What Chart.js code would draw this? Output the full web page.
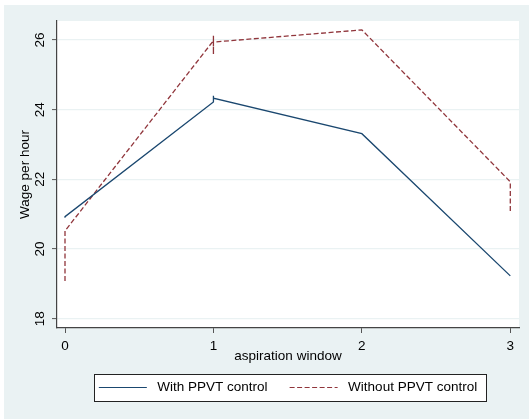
<!DOCTYPE html>
<html>
<head>
<meta charset="utf-8">
<script src="https://cdn.jsdelivr.net/npm/chart.js@4"></script>
<style>
  html, body { margin: 0; padding: 0; background: #eaf2f3; }
  canvas { display: block; }
</style>
</head>
<body>
<canvas id="chart" width="529" height="419"></canvas>
<script>
// values
const seriesNames = ['With PPVT control', 'Without PPVT control'];
const withX = [0, 0, 1, 1, 1, 2, 3];
const withY = [20.90, 20.93, 24.22, 24.40, 24.33, 23.31, 19.23];
const withoutX = [0, 0, 1, 1, 1, 1, 2, 3, 3];
const withoutY = [19.08, 20.52, 25.98, 26.12, 25.59, 25.94, 26.29, 21.93, 21.04];
const xTicks = [0, 1, 2, 3];
const yTicks = [18, 20, 22, 24, 26];

const navy = '#1a476f';
const maroon = '#90353b';
const bluishGray = '#eaf2f3';

Chart.defaults.font.family = "'Liberation Sans', Arial, sans-serif";
Chart.defaults.font.size = 13.5;
Chart.defaults.color = '#000';

function points(xs, ys) {
  return xs.map((x, i) => ({ x: x, y: ys[i] }));
}

// background, white plot region and the framed legend
const backdrop = {
  id: 'backdrop',
  beforeDraw(chart) {
    const ctx = chart.ctx;
    const a = chart.chartArea;
    ctx.save();
    ctx.fillStyle = bluishGray;
    ctx.fillRect(0, 0, chart.width, chart.height);
    ctx.fillStyle = '#fff';
    ctx.fillRect(0, 0, chart.width, 5);
    ctx.fillRect(0, 0, 4, chart.height);
    ctx.fillRect(a.left, a.top, a.right - a.left, a.bottom - a.top);

    const boxes = chart.legend.legendHitBoxes;
    if (boxes && boxes.length) {
      const first = boxes[0];
      const last = boxes[boxes.length - 1];
      const cy = first.top + first.height / 2;
      const x0 = Math.round(first.left - 4.5) + 0.5;
      const x1 = Math.round(last.left + last.width + 9) + 0.5;
      const y0 = Math.round(cy - 13.5) + 0.5;
      ctx.fillRect(x0, y0, x1 - x0, 27);
      ctx.strokeStyle = '#222';
      ctx.lineWidth = 1;
      ctx.strokeRect(x0, y0, x1 - x0, 27);
    }
    ctx.restore();
  }
};

new Chart(document.getElementById('chart'), {
  type: 'scatter',
  data: {
    datasets: [{
      label: seriesNames[0],
      data: points(withX, withY),
      showLine: true,
      borderColor: navy,
      backgroundColor: navy,
      borderWidth: 1.3,
      pointRadius: 0,
      pointHoverRadius: 0
    }, {
      label: seriesNames[1],
      data: points(withoutX, withoutY),
      showLine: true,
      borderColor: maroon,
      backgroundColor: maroon,
      borderWidth: 1.3,
      borderDash: [5, 2.5],
      pointRadius: 0,
      pointHoverRadius: 0
    }]
  },
  options: {
    responsive: false,
    animation: false,
    layout: { padding: { top: 21, right: 10, bottom: 14.75, left: 0 } },
    plugins: {
      tooltip: { enabled: false },
      legend: {
        position: 'bottom',
        fullSize: false,
        labels: {
          usePointStyle: true,
          pointStyle: 'line',
          pointStyleWidth: 48,
          padding: 22,
          color: '#000',
          generateLabels(chart) {
            return chart.data.datasets.map((ds, i) => ({
              text: ' ' + ds.label,
              strokeStyle: ds.borderColor,
              fillStyle: ds.borderColor,
              lineWidth: 1.2,
              lineDash: ds.borderDash || [],
              pointStyle: 'line',
              datasetIndex: i
            }));
          }
        }
      }
    },
    scales: {
      x: {
        type: 'linear',
        min: -0.0539,
        max: 3.0586,
        afterBuildTicks(scale) { scale.ticks = xTicks.map(v => ({ value: v })); },
        afterFit(scale) { scale.height = 30.75; },
        ticks: { padding: 5.5, color: '#000' },
        grid: { drawOnChartArea: false, drawTicks: true, tickLength: 5, tickColor: '#555', tickWidth: 1 },
        border: { display: true, color: '#444', width: 1.2 },
        title: { display: true, text: 'aspiration window', color: '#000', padding: { top: 0, bottom: -5.65 } }
      },
      y: {
        type: 'linear',
        min: 17.733,
        max: 26.545,
        afterBuildTicks(scale) { scale.ticks = yTicks.map(v => ({ value: v })); },
        afterFit(scale) { scale.width = 57; },
        ticks: { padding: 4.5, crossAlign: 'center', minRotation: 90, maxRotation: 90, color: '#000' },
        grid: { color: bluishGray, lineWidth: 1.2, drawTicks: true, tickLength: 5, tickColor: '#555', tickWidth: 1 },
        border: { display: true, color: '#444', width: 1.2 },
        title: { display: true, text: 'Wage per hour', color: '#000', padding: { top: 17.2, bottom: 0 } }
      }
    }
  },
  plugins: [backdrop]
});
</script>
</body>
</html>
